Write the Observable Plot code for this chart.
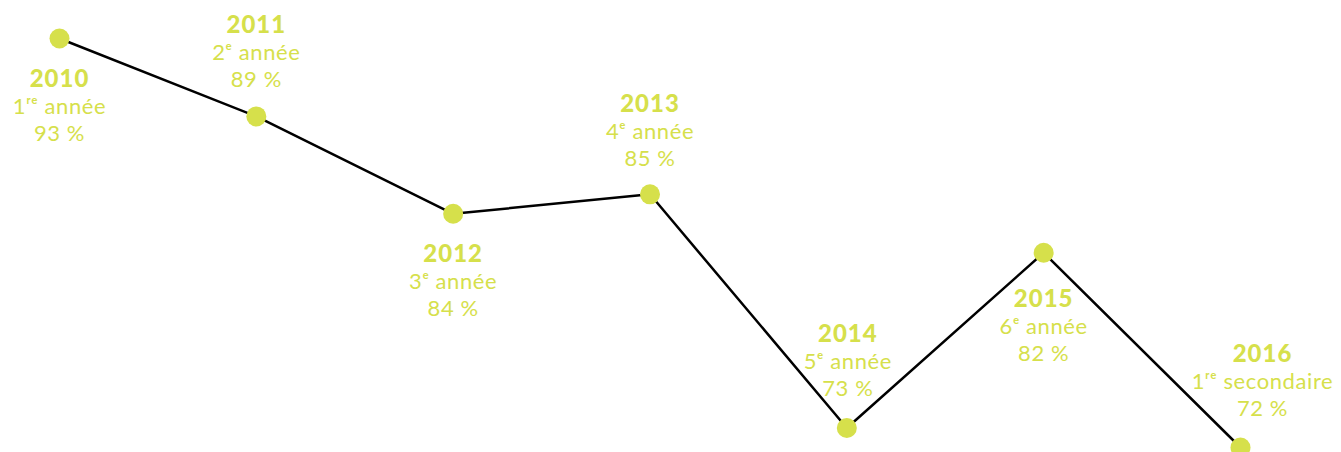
<!DOCTYPE html>
<html>
<head>
<meta charset="utf-8">
<script src="https://cdn.jsdelivr.net/npm/d3@7"></script>
<script src="https://cdn.jsdelivr.net/npm/@observablehq/plot@0.6"></script>
<style>
  html, body { margin: 0; padding: 0; background: #fff; }
  #chart svg { display: block; }
</style>
</head>
<body>
<div id="chart"></div>
<script>
const years = [2010, 2011, 2012, 2013, 2014, 2015, 2016];
const grades = ["1ʳᵉ année", "2ᵉ année", "3ᵉ année", "4ᵉ année", "5ᵉ année", "6ᵉ année", "1ʳᵉ secondaire"];
const values = [93, 89, 84, 85, 73, 82, 72];

const data = years.map((year, i) => ({year, grade: grades[i], value: values[i]}));

// label placement (style, not data)
const labelOffsets = [
  {dx: 0, dy: 40}, {dx: 0, dy: -92}, {dx: 0, dy: 40}, {dx: 0, dy: -91},
  {dx: 1, dy: -95}, {dx: 0, dy: 46}, {dx: 22, dy: -94}
];

const color = "#d6e04b";
const font = "Lato, 'DejaVu Sans', sans-serif";
const baseSize = 22;
const lineGap = 27;

const labelMarks = data.map((d, i) => {
  const o = labelOffsets[i];
  return Plot.text([d], {
    x: "year", y: "value",
    text: d => `${d.year}\n${d.grade}\n${d.value} %`,
    dx: o.dx, dy: o.dy + lineGap,
    lineAnchor: "middle",
    lineHeight: lineGap / baseSize,
    fill: color, fontSize: baseSize, fontFamily: font,
    className: "label"
  });
});

const chart = Plot.plot({
  width: 1341,
  height: 452,
  marginLeft: 59,
  marginRight: 101,
  marginTop: 38,
  marginBottom: 5,
  x: {domain: [2010, 2016], axis: null},
  y: {domain: [72, 93], axis: null},
  marks: [
    Plot.line(data, {x: "year", y: "value", stroke: "#000", strokeWidth: 2.5}),
    Plot.dot(data, {x: "year", y: "value", r: 10, fill: color, stroke: "none"}),
    ...labelMarks
  ]
});

// style the label lines: year bold, other lines slightly spaced
chart.querySelectorAll("g.label text").forEach(t => {
  t.style.letterSpacing = "0.6px";
  const first = t.querySelector("tspan");
  if (!first) return;
  const yAttr = first.getAttribute("y");
  if (yAttr && yAttr.endsWith("em")) {
    first.setAttribute("y", `${parseFloat(yAttr) * baseSize}px`);
  }
  first.style.fontWeight = "900";
  first.style.fontSize = "24px";
  first.style.letterSpacing = "1px";
});

document.getElementById("chart").appendChild(chart);
</script>
</body>
</html>
